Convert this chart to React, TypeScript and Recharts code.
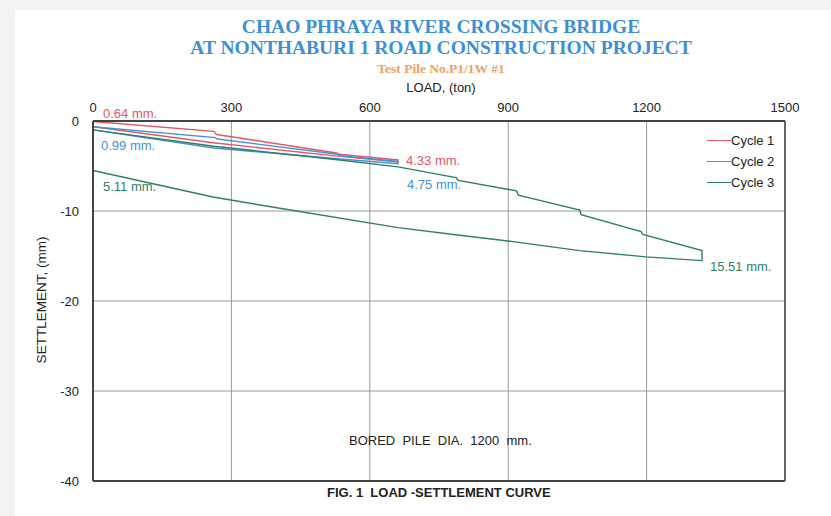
import React from "react";
import {
  CartesianGrid,
  Legend,
  Line,
  LineChart,
  ReferenceLine,
  XAxis,
  YAxis
} from "recharts";

// load (ton) and settlement (mm), point by point
const cycle1Load = [0, 262, 268, 528, 533, 661, 661, 530, 265, 0];
const cycle1Settle = [-0.05, -1.15, -1.5, -3.55, -3.7, -4.33, -4.55, -3.9, -2.45, -0.64];

const cycle2Load = [0, 265, 270, 530, 535, 661, 661, 530, 262, 0];
const cycle2Settle = [-0.64, -1.85, -2.0, -3.7, -3.85, -4.5, -4.75, -4.2, -3.0, -0.99];

const cycle3Load = [
  0, 262, 530, 661, 787, 792, 918, 922, 1055, 1058, 1188, 1192, 1320, 1320,
  1199, 1055, 910, 795, 661, 405, 260, 0
];
const cycle3Settle = [
  -0.99, -2.8, -4.3, -5.1, -6.28, -6.6, -7.76, -8.25, -9.9, -10.4, -12.3, -12.6,
  -14.4, -15.51, -15.1, -14.4, -13.4, -12.7, -11.85, -9.7, -8.45, -5.5
];

const loadTicks = [0, 300, 600, 900, 1200, 1500];
const settleTicks = [0, -10, -20, -30, -40];

const seriesNames = ["Cycle 1", "Cycle 2", "Cycle 3"];
const colors = ["#e4576a", "#3f93d8", "#2f7f62"];

const notes = [
  { text: "0.64 mm.", color: colors[0], left: 103, top: 107 },
  { text: "0.99 mm.", color: colors[1], left: 101, top: 139 },
  { text: "5.11 mm.", color: colors[2], left: 103, top: 180 },
  { text: "4.33 mm.", color: colors[0], left: 406, top: 154 },
  { text: "4.75 mm.", color: colors[1], left: 407, top: 178 },
  { text: "15.51 mm.", color: colors[2], left: 710, top: 260 }
];

const zip = (load: number[], settle: number[]) =>
  load.map((l, i) => ({ load: l, settle: settle[i] }));

const series = [
  zip(cycle1Load, cycle1Settle),
  zip(cycle2Load, cycle2Settle),
  zip(cycle3Load, cycle3Settle)
];

const sans = "'Liberation Sans', Arial, sans-serif";
const serif = "'Liberation Serif', 'Times New Roman', serif";

function CycleLegend() {
  return (
    <div style={{ fontFamily: sans, fontSize: 13, color: "#222" }}>
      {seriesNames.map((name, i) => (
        <div key={name} style={{ display: "flex", alignItems: "center", height: 21 }}>
          <span
            style={{ width: 24, height: 1.5, background: colors[i], display: "inline-block" }}
          />
          <span>{name}</span>
        </div>
      ))}
    </div>
  );
}

function centered(text: string, top: number, style: React.CSSProperties) {
  return (
    <div
      style={{
        position: "absolute",
        left: 0,
        width: 882,
        top,
        textAlign: "center",
        whiteSpace: "nowrap",
        ...style
      }}
    >
      {text}
    </div>
  );
}

export default function App() {
  return (
    <div
      style={{
        position: "absolute",
        left: 0,
        top: 0,
        width: 831,
        height: 516,
        background: "#f3f3f3",
        overflow: "hidden"
      }}
    >
      <div
        style={{ position: "absolute", left: 15, top: 10, right: 0, bottom: 0, background: "#fff" }}
      />
      {centered("CHAO PHRAYA RIVER CROSSING BRIDGE", 16, {
        fontFamily: serif,
        fontWeight: 700,
        fontSize: 19.5,
        lineHeight: "22px",
        color: "#3d8fd6"
      })}
      {centered("AT NONTHABURI 1 ROAD CONSTRUCTION PROJECT", 37, {
        fontFamily: serif,
        fontWeight: 700,
        fontSize: 19.5,
        lineHeight: "22px",
        color: "#3d8fd6"
      })}
      {centered("Test Pile No.P1/1W #1", 61, {
        fontFamily: serif,
        fontWeight: 700,
        fontSize: 13.5,
        lineHeight: "16px",
        color: "#f3a062"
      })}
      {centered("LOAD, (ton)", 81, {
        fontFamily: sans,
        fontSize: 13,
        lineHeight: "14px",
        color: "#222"
      })}

      <LineChart
        width={831}
        height={516}
        margin={{ top: 101, right: 46, bottom: 35, left: 63 }}
        style={{ position: "absolute", left: 0, top: 0 }}
      >
        <CartesianGrid stroke="#9a9a9a" strokeWidth={1} />
        <XAxis
          dataKey="load"
          type="number"
          orientation="top"
          domain={[0, 1500]}
          ticks={loadTicks}
          height={20}
          tickSize={0}
          tickMargin={9}
          axisLine={{ stroke: "#444", strokeWidth: 2 }}
          tick={{ fill: "#222", fontSize: 13, fontFamily: sans }}
          allowDataOverflow
        />
        <YAxis
          type="number"
          domain={[-40, 0]}
          ticks={settleTicks}
          width={30}
          tickSize={0}
          tickMargin={14}
          axisLine={{ stroke: "#444", strokeWidth: 2 }}
          tick={{ fill: "#222", fontSize: 13, fontFamily: sans }}
        />
        <ReferenceLine y={-40} stroke="#444" strokeWidth={2} />
        <ReferenceLine x={1500} stroke="#666" strokeWidth={2} />
        {series.map((data, i) => (
          <Line
            key={seriesNames[i]}
            name={seriesNames[i]}
            data={data}
            dataKey="settle"
            type="linear"
            stroke={colors[i]}
            strokeWidth={1.4}
            dot={false}
            isAnimationActive={false}
          />
        ))}
        <Legend
          layout="vertical"
          align="center"
          verticalAlign="middle"
          content={<CycleLegend />}
          wrapperStyle={{ left: 707, top: 130, width: "auto", height: "auto" }}
        />
      </LineChart>

      {notes.map((n) => (
        <div
          key={n.text}
          style={{
            position: "absolute",
            left: n.left,
            top: n.top,
            fontFamily: sans,
            fontSize: 13,
            lineHeight: "14px",
            color: n.color,
            whiteSpace: "nowrap"
          }}
        >
          {n.text}
        </div>
      ))}

      <div
        style={{
          position: "absolute",
          left: 41,
          top: 300,
          transform: "translate(-50%, -50%) rotate(-90deg)",
          fontFamily: sans,
          fontSize: 13.5,
          color: "#222",
          whiteSpace: "nowrap"
        }}
      >
        SETTLEMENT, (mm)
      </div>
      <div
        style={{
          position: "absolute",
          left: 349,
          top: 434,
          fontFamily: sans,
          fontSize: 13,
          lineHeight: "14px",
          color: "#222",
          whiteSpace: "pre"
        }}
      >
        {"BORED  PILE  DIA.  1200  mm."}
      </div>
      <div
        style={{
          position: "absolute",
          left: 327,
          top: 486,
          fontFamily: sans,
          fontWeight: 700,
          fontSize: 13,
          lineHeight: "14px",
          color: "#222",
          whiteSpace: "pre"
        }}
      >
        {"FIG. 1  LOAD -SETTLEMENT CURVE"}
      </div>
    </div>
  );
}
